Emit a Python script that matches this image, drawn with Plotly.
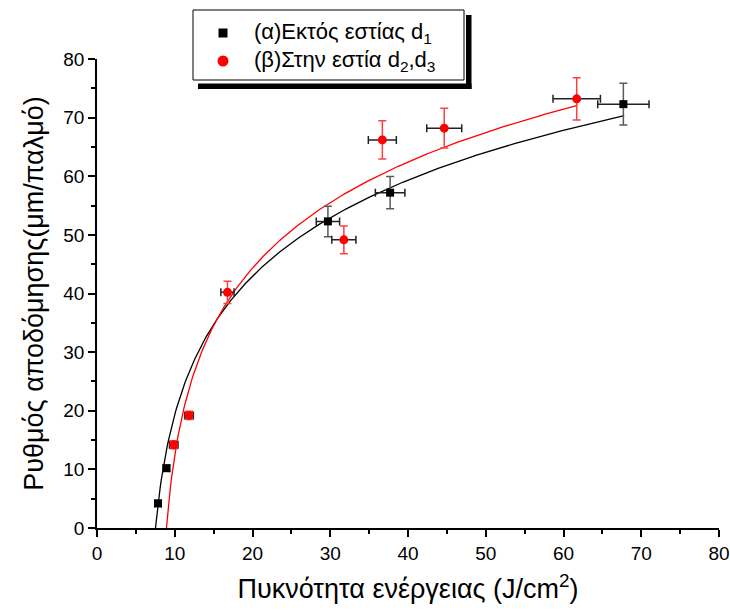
import numpy as np
import plotly.graph_objects as go

# (α) out of focus, d1
out_x = [7.85, 8.93, 29.7, 37.7, 67.7]
out_y = [4.2, 10.2, 52.3, 57.2, 72.3]
out_ex = [0.4, 0.4, 1.5, 1.9, 3.3]
out_ey = [0.5, 0.5, 2.6, 2.75, 3.55]

# (β) in focus, d2, d3
in_x = [9.87, 11.84, 16.78, 31.75, 36.7, 44.66, 61.7]
in_y = [14.2, 19.2, 40.2, 49.15, 66.2, 68.2, 73.2]
in_ex = [0.55, 0.55, 0.85, 1.55, 1.8, 2.25, 3.05]
in_ey = [0.7, 0.7, 1.9, 2.35, 3.25, 3.4, 3.6]

# logarithmic fits  y = b * ln((x - c) / (x0 - c)),  drawn from x0 to x_end
fit_out = {"b": 18.3, "c": 6.2, "x0": 7.52, "x_end": 67.8}
fit_in = {"b": 18.64, "c": 7.8, "x0": 8.93, "x_end": 61.8}

legend_out = "(α)Εκτός εστίας d<sub>1</sub>"
legend_in = "(β)Στην εστία d<sub>2</sub>,d<sub>3</sub>"
x_title = "Πυκνότητα ενέργειας (J/cm<sup>2</sup>)"
y_title = "Ρυθμός αποδόμησης(μm/παλμό)"

FONT = "Liberation Sans, Arial, sans-serif"
W, H = 730, 612
ML, MR, MT, MB = 97, 11, 59, 84
PW, PH = W - ML - MR, H - MT - MB


def px_x(px):
    """page pixel column -> paper x"""
    return (px - ML) / PW


def px_y(py):
    """page pixel row -> paper y"""
    return (H - MB - py) / PH


def fit_curve(p, n=400):
    xs = np.linspace(p["x0"], p["x_end"], n)
    ys = p["b"] * np.log((xs - p["c"]) / (p["x0"] - p["c"]))
    return xs, ys


fig = go.Figure()

for p, col in ((fit_out, "black"), (fit_in, "red")):
    fx, fy = fit_curve(p)
    fig.add_trace(go.Scatter(x=fx, y=fy, mode="lines",
                             line=dict(color=col, width=1.3),
                             showlegend=False, hoverinfo="skip"))

fig.add_trace(go.Scatter(
    x=out_x, y=out_y, mode="markers", name="d1", showlegend=False,
    marker=dict(symbol="square", size=8, color="black"),
    error_x=dict(type="data", array=out_ex, color="#222222", thickness=1.5, width=4),
    error_y=dict(type="data", array=out_ey, color="#5a5a5a", thickness=1.5, width=4),
))
fig.add_trace(go.Scatter(
    x=in_x, y=in_y, mode="markers", name="d2,d3", showlegend=False,
    marker=dict(symbol="circle", size=9, color="red"),
    error_x=dict(type="data", array=in_ex, color="#222222", thickness=1.5, width=4),
    error_y=dict(type="data", array=in_ey, color="#ff4040", thickness=1.5, width=4),
))

axis_common = dict(
    range=[0, 80], dtick=10, showgrid=False, zeroline=False, automargin=False,
    showline=True, linecolor="black", linewidth=1.5,
    ticks="outside", ticklen=7, tickwidth=1.5, tickcolor="black",
    minor=dict(dtick=5, ticks="outside", ticklen=4, tickwidth=1.5, tickcolor="black"),
    tickfont=dict(family=FONT, size=19, color="black"),
)

fig.update_layout(
    width=W, height=H,
    margin=dict(l=ML, r=MR, t=MT, b=MB),
    paper_bgcolor="white", plot_bgcolor="white",
    font=dict(family=FONT, color="black"),
    xaxis=dict(**axis_common,
               title=dict(text=x_title, font=dict(family=FONT, size=27), standoff=17)),
    yaxis=dict(**axis_common,
               title=dict(text=y_title, font=dict(family=FONT, size=27), standoff=12)),
    showlegend=False,
)

# legend frame with its drop shadow
box_l, box_r, box_t, box_b = 193, 464, 10, 80
fig.add_shape(type="rect", xref="paper", yref="paper",
              x0=px_x(466), x1=px_x(471.5), y0=px_y(89), y1=px_y(15),
              fillcolor="black", line=dict(width=0), layer="above")
fig.add_shape(type="rect", xref="paper", yref="paper",
              x0=px_x(198), x1=px_x(471.5), y0=px_y(89), y1=px_y(83.5),
              fillcolor="black", line=dict(width=0), layer="above")
fig.add_shape(type="rect", xref="paper", yref="paper",
              x0=px_x(box_l), x1=px_x(box_r), y0=px_y(box_b), y1=px_y(box_t),
              fillcolor="white", line=dict(color="black", width=1), layer="above")

# legend entries: symbol + label
entries = [
    (legend_out, "square", "black", 33),
    (legend_in, "circle", "red", 61),
]
for text, sym, col, row_y in entries:
    half = 4.5 if sym == "square" else 5.5
    fig.add_shape(type="rect" if sym == "square" else "circle",
                  xref="paper", yref="paper",
                  xsizemode="pixel", ysizemode="pixel",
                  xanchor=px_x(223), yanchor=px_y(row_y),
                  x0=-half, x1=half, y0=-half, y1=half,
                  fillcolor=col, line=dict(width=0), layer="above")
    fig.add_annotation(text=text, xref="paper", yref="paper",
                       x=px_x(252), y=px_y(row_y), xanchor="left", yanchor="middle",
                       showarrow=False, font=dict(family=FONT, size=22, color="black"))

fig.write_html("out.html")
